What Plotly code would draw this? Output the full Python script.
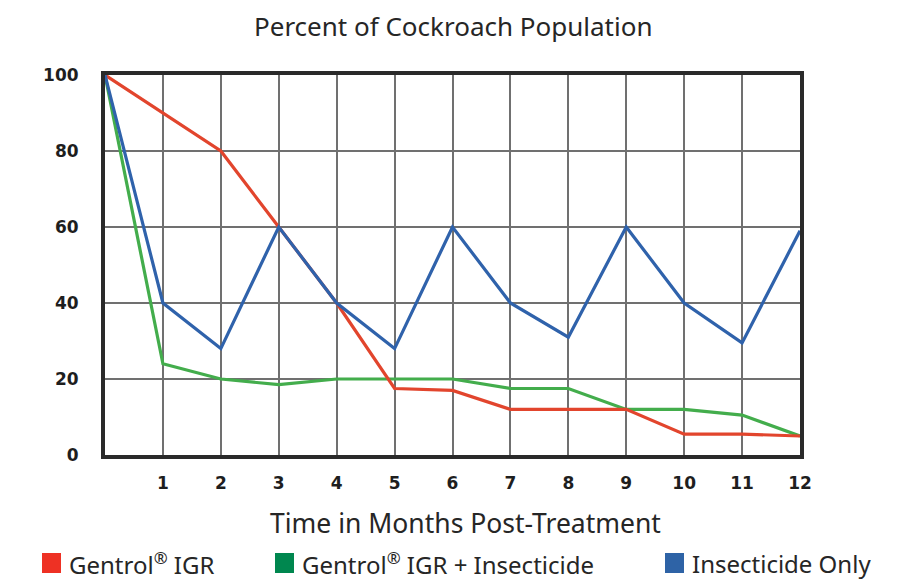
import plotly.graph_objects as go

months = list(range(0, 13))
tick_vals = list(range(1, 13))
tick_text = [str(m) for m in tick_vals]
y_ticks = [0, 20, 40, 60, 80, 100]

gentrol_igr = [100, 90, 80, 60, 40, 17.5, 17, 12, 12, 12, 5.5, 5.5, 5]
gentrol_plus = [100, 24, 20, 18.5, 20, 20, 20, 17.5, 17.5, 12, 12, 10.5, 5]
insecticide_only = [100, 40, 28, 60, 40, 28, 60, 40, 31, 60, 40, 29.5, 59]

series_names = ["Gentrol® IGR", "Gentrol® IGR + Insecticide", "Insecticide Only"]
legend_labels = ["Gentrol<sup>®</sup> IGR", "Gentrol<sup>®</sup> IGR + Insecticide", "Insecticide Only"]
line_colors = ["#e2452d", "#43ad4c", "#2f62ab"]
legend_colors = ["#ee3124", "#00874f", "#2e63a6"]

fig = go.Figure()
for vals, name, col in [(gentrol_plus, series_names[1], line_colors[1]),
                        (gentrol_igr, series_names[0], line_colors[0]),
                        (insecticide_only, series_names[2], line_colors[2])]:
    fig.add_trace(go.Scatter(x=months, y=vals, mode="lines", name=name,
                             line=dict(color=col, width=3.2), showlegend=False))

# page has an 8px body margin; work in page pixels and convert
OFF = 8
PAGE_W, PAGE_H = 908, 584
W, H = PAGE_W - OFF, PAGE_H - OFF
PL, PR, PT, PB = 105, 800, 75, 455  # plot area in page pixels
L, T = PL - OFF, PT - OFF
R = PAGE_W - PR
B = PAGE_H - PB
pw = PR - PL
ph = PB - PT

def px_x(px):
    return (px - PL) / pw

def px_y(py):
    return (PB - py) / ph

FONT = "Noto Sans"
shapes = []
annotations = []
legend_pos = [(42, 67), (275, 300), (665, 690)]
for (sx, tx), label, col in zip(legend_pos, legend_labels, legend_colors):
    shapes.append(dict(type="rect", xref="paper", yref="paper",
                       x0=px_x(sx), x1=px_x(sx + 19),
                       y0=px_y(573), y1=px_y(553),
                       fillcolor=col, line=dict(width=0)))
    annotations.append(dict(text=label, xref="paper", yref="paper",
                            x=px_x(tx), y=px_y(563),
                            xanchor="left", yanchor="middle", showarrow=False,
                            font=dict(family=FONT, size=24, color="#262626")))

annotations.append(dict(text="Time in Months Post-Treatment", xref="paper", yref="paper",
                        x=px_x(465), y=px_y(523),
                        xanchor="center", yanchor="middle", showarrow=False,
                        font=dict(family=FONT, size=26.5, color="#262626")))
annotations.append(dict(text="Percent of Cockroach Population", xref="paper", yref="paper",
                        x=px_x(453), y=px_y(8), yshift=2,
                        xanchor="center", yanchor="top", showarrow=False,
                        font=dict(family=FONT, size=26, color="#262626")))

fig.update_layout(
    width=W, height=H,
    margin=dict(l=L, r=R, t=T, b=B, pad=0),
    paper_bgcolor="white", plot_bgcolor="white",
    shapes=shapes, annotations=annotations,
    xaxis=dict(range=[0, 12], tickvals=tick_vals, ticktext=tick_text,
               showgrid=True, gridcolor="#707070", gridwidth=2,
               showline=True, linecolor="#2a2a2a", linewidth=4, mirror=True,
               zeroline=False, ticks="", ticklabelstandoff=10,
               tickfont=dict(family="DejaVu Sans", size=17, color="#1e1e1e", weight="bold")),
    yaxis=dict(range=[0, 100], tickvals=y_ticks,
               showgrid=True, gridcolor="#707070", gridwidth=2,
               showline=True, linecolor="#2a2a2a", linewidth=4, mirror=True,
               zeroline=False, ticks="", ticklabelstandoff=19,
               tickfont=dict(family="DejaVu Sans", size=17, color="#1e1e1e", weight="bold")),
)

fig.write_html("out.html")
